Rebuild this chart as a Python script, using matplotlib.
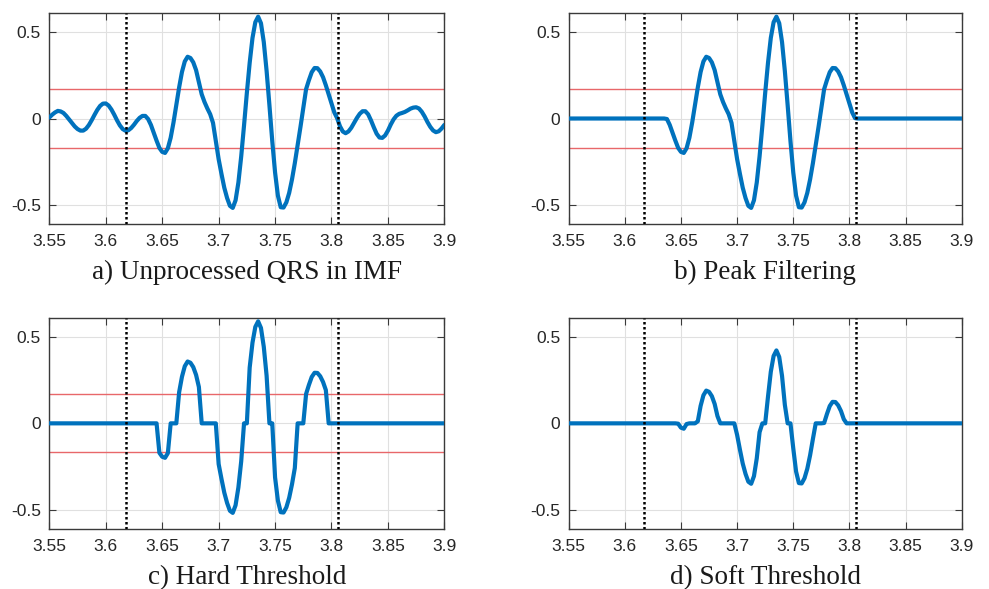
import numpy as np
import matplotlib
matplotlib.use("Agg")
import matplotlib.pyplot as plt

plt.rcParams["axes.unicode_minus"] = False

# IMF samples, 3.55 s to 3.90 s at 2.5 ms steps
t_start, t_end = 3.55, 3.90
imf = [
    0.006, 0.022, 0.035, 0.044, 0.041, 0.032, 0.015, -0.005, -0.026, -0.046,
    -0.061, -0.070, -0.070, -0.059, -0.038, -0.010, 0.021, 0.050, 0.073, 0.086,
    0.087, 0.075, 0.052, 0.022, -0.011, -0.040, -0.061, -0.071, -0.068, -0.055,
    -0.036, -0.014, 0.004, 0.015, 0.015, -0.003, -0.037, -0.082, -0.128, -0.170,
    -0.193, -0.199, -0.172, -0.111, -0.023, 0.079, 0.180, 0.269, 0.330, 0.357,
    0.350, 0.325, 0.280, 0.210, 0.140, 0.095, 0.058, 0.025, -0.025, -0.130,
    -0.235, -0.320, -0.400, -0.460, -0.505, -0.517, -0.473, -0.370, -0.219, -0.040,
    0.148, 0.322, 0.466, 0.557, 0.589, 0.551, 0.442, 0.275, 0.077, -0.130,
    -0.312, -0.446, -0.513, -0.515, -0.485, -0.430, -0.352, -0.258, -0.155, -0.049,
    0.060, 0.170, 0.222, 0.268, 0.292, 0.291, 0.272, 0.239, 0.192, 0.139,
    0.085, 0.035, 0.002, -0.045, -0.075, -0.085, -0.075, -0.054, -0.026, 0.003,
    0.027, 0.042, 0.042, 0.024, -0.011, -0.051, -0.088, -0.110, -0.112, -0.098,
    -0.070, -0.035, -0.005, 0.016, 0.027, 0.032, 0.038, 0.047, 0.057, 0.063,
    0.065, 0.058, 0.039, 0.012, -0.020, -0.048, -0.069, -0.079, -0.074, -0.058,
    -0.037,
]

threshold = 0.168
qrs_bounds = [3.6175, 3.8055]      # dotted markers
peak_window = [3.637, 3.8055]      # segment kept by peak filtering

titles = [
    "a) Unprocessed QRS in IMF",
    "b) Peak Filtering",
    "c) Hard Threshold",
    "d) Soft Threshold",
]
x_ticks = [3.55, 3.6, 3.65, 3.7, 3.75, 3.8, 3.85, 3.9]
x_ticklabels = ["3.55", "3.6", "3.65", "3.7", "3.75", "3.8", "3.85", "3.9"]
y_ticks = [-0.5, 0, 0.5]
y_ticklabels = ["-0.5", "0", "0.5"]

# ── derived signals ───────────────────────────────────────────────────────
sig = np.array(imf)
t = np.linspace(t_start, t_end, len(sig))
peak = np.where((t >= peak_window[0]) & (t <= peak_window[1]), sig, 0.0)
hard = np.where(np.abs(peak) > threshold, peak, 0.0)
soft = np.sign(peak) * np.maximum(np.abs(peak) - threshold, 0.0)

panels = [(sig, True), (peak, True), (hard, True), (soft, False)]

BLUE = "#0072BD"
RED = "#e8676a"
EDGE = "#3a3a3a"

fig = plt.figure(figsize=(9.89, 5.89), dpi=100)
positions = [
    [0.0499, 0.6197, 0.3994, 0.3582],
    [0.5750, 0.6197, 0.3974, 0.3582],
    [0.0499, 0.1019, 0.3994, 0.3587],
    [0.5750, 0.1019, 0.3974, 0.3587],
]

for pos, (y, show_thr), title in zip(positions, panels, titles):
    ax = fig.add_axes(pos)
    ax.grid(True, color="#e0e0e0", lw=0.8, zorder=0)
    ax.set_axisbelow(True)
    if show_thr:
        ax.axhline(threshold, color=RED, lw=1.0, zorder=2)
        ax.axhline(-threshold, color=RED, lw=1.0, zorder=2)
    ax.plot(t, y, color=BLUE, lw=3.0, solid_capstyle="round",
            solid_joinstyle="round", zorder=3)
    for xb in qrs_bounds:
        ax.axvline(xb, color="black", lw=1.8, ls=(0, (1, 1)), zorder=4)

    ax.set_xlim(t_start, t_end)
    ax.set_ylim(-0.61, 0.61)
    ax.set_xticks(x_ticks)
    ax.set_xticklabels(x_ticklabels)
    ax.set_yticks(y_ticks)
    ax.set_yticklabels(y_ticklabels)
    ax.tick_params(direction="in", length=5, width=0.8, color=EDGE,
                   top=True, right=True, labelsize=12.5, labelcolor="#262626")
    ax.tick_params(axis="x", pad=7)
    ax.tick_params(axis="y", pad=6)
    for lab in ax.get_xticklabels() + ax.get_yticklabels():
        lab.set_family("Liberation Sans")
    for sp in ax.spines.values():
        sp.set_color(EDGE)
        sp.set_linewidth(1.0)

    ax.text(0.5, -0.228, title, transform=ax.transAxes, ha="center",
            va="center", fontsize=19.5, family="Liberation Serif", color="#1a1a1a")

fig.savefig("out.png", dpi=100)
